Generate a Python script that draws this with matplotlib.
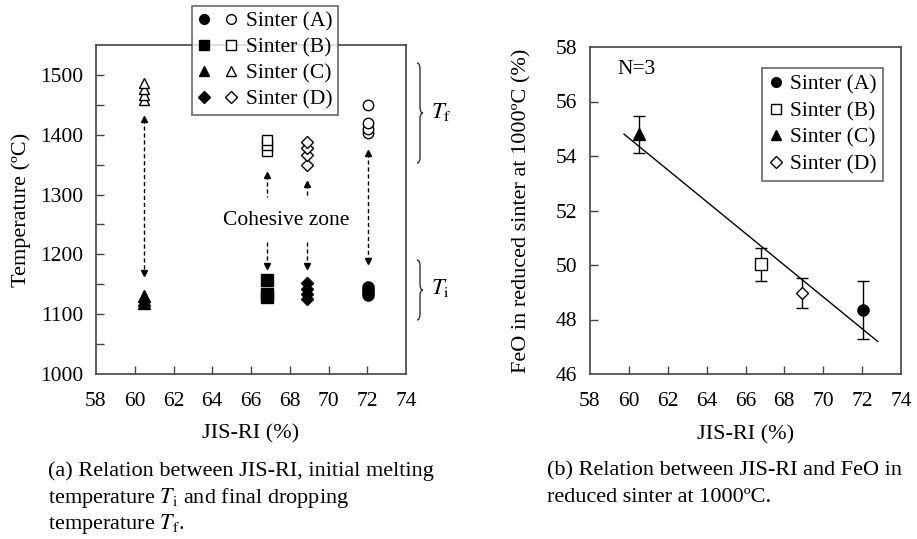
import matplotlib
matplotlib.use("Agg")
import matplotlib.pyplot as plt
import numpy as np
from matplotlib.legend_handler import HandlerTuple
from matplotlib.lines import Line2D
from matplotlib.path import Path
from matplotlib.patches import PathPatch

plt.rcParams['font.family'] = ['Liberation Serif', 'DejaVu Serif']
plt.rcParams['mathtext.fontset'] = 'stix'

# ---------------- data ----------------
sinters = ['Sinter (A)', 'Sinter (B)', 'Sinter (C)', 'Sinter (D)']
markers = ['o', 's', '^', 'D']
jis_ri = [72.05, 66.8, 60.5, 68.9]

# final dropping temperature Tf (open) and initial melting temperature Ti (filled)
tf_values = [[1403, 1410, 1420, 1450],
             [1372, 1383, 1392],
             [1458, 1467, 1476, 1486],
             [1350, 1366, 1377, 1388]]
ti_values = [[1132, 1136, 1141, 1146],
             [1128, 1134, 1157],
             [1118, 1124, 1131],
             [1125, 1133, 1142, 1152]]
arrow_top = [1374, 1336, 1430, 1321]
arrow_bottom = [1185, 1177, 1165, 1177]
gap_top = [None, 1292, None, 1292]
gap_bottom = [None, 1224, None, 1224]

# panel (b)
feo_mean = [48.35, 50.03, 54.8, 48.98]
feo_err = [1.05, 0.6, 0.68, 0.55]
feo_filled = [True, False, True, False]
fit_range = [59.75, 72.8]

W, H = 917, 539
fig = plt.figure(figsize=(W / 100, H / 100), dpi=100)

def px_axes(l, t, r, b):
    return fig.add_axes([l / W, 1 - b / H, (r - l) / W, (b - t) / H])

frame_col = '#444444'
FS = 15.5      # ticks, legend, annotations
FL = 16        # axis labels
FC = 16        # captions

def style_axes(ax):
    ax.tick_params(axis='both', which='both', direction='in', length=6, width=1,
                   color=frame_col, labelsize=FS)
    ax.tick_params(axis='y', pad=9)
    ax.tick_params(axis='x', pad=13)
    for s in ax.spines.values():
        s.set_color(frame_col)
        s.set_linewidth(1.2)

# ---------------- panel (a) ----------------
ax1 = px_axes(96, 45, 406, 374)
ax1.set_xlim(58, 74)
ax1.set_ylim(1000, 1550)
for i in range(4):
    x = jis_ri[i]
    ax1.plot([x] * len(tf_values[i]), tf_values[i], linestyle='none', marker=markers[i],
             mfc='white', mec='black', mew=1.0, ms=7.5 if markers[i] != 'D' else 6)
    ax1.plot([x] * len(ti_values[i]), ti_values[i], linestyle='none', marker=markers[i],
             mfc='black', mec='black', ms=8 if markers[i] != 'D' else 6.5)
    # dashed double arrow
    if gap_top[i] is None:
        segs = [(arrow_top[i], arrow_bottom[i])]
    else:
        segs = [(arrow_top[i], gap_top[i]), (gap_bottom[i], arrow_bottom[i])]
    for a, b in segs:
        ax1.plot([x, x], [a - 4, b + 4], color='black', lw=1.0, linestyle=(0, (3, 2)))
    ax1.plot([x], [arrow_top[i] - 4], marker='^', color='black', ms=4.5)
    ax1.plot([x], [arrow_bottom[i] + 4], marker='v', color='black', ms=4.5)

ax1.text(67.8, 1256, 'Cohesive zone', ha='center', va='center', fontsize=FS)

ax1.set_xticks(np.arange(58, 75, 2))
ax1.set_yticks(np.arange(1000, 1501, 100))
ax1.set_yticks(np.arange(1050, 1501, 100), minor=True)
style_axes(ax1)
xt = ax1.xaxis.get_major_ticks()
xt[0].tick1line.set_visible(False)
xt[-1].tick1line.set_visible(False)
ax1.yaxis.get_major_ticks()[0].tick1line.set_visible(False)
ax1.set_xlabel('JIS-RI (%)', fontsize=FL)
ax1.xaxis.set_label_coords(0.5, -60 / 329)
ax1.xaxis.label.set_va('center')
ax1.set_ylabel('Temperature (ºC)', fontsize=FL)
ax1.yaxis.set_label_coords(-75 / 310, 0.5)
ax1.yaxis.label.set_va('center')

handles = [(Line2D([], [], ls='none', marker=m, mfc='black', mec='black', ms=7 if m != 'D' else 6),
            Line2D([], [], ls='none', marker=m, mfc='white', mec='black', ms=7 if m != 'D' else 6))
           for m in markers]
leg1 = fig.legend(handles, sinters, loc='upper center', bbox_to_anchor=(265 / W, 1 - 6 / H),
                  bbox_transform=fig.transFigure, fontsize=FS, frameon=True, fancybox=False,
                  handler_map={tuple: HandlerTuple(ndivide=None, pad=0.6)},
                  handlelength=1.9, handletextpad=0.35, borderpad=0.25, labelspacing=0.28,
                  borderaxespad=0)
leg1.get_frame().set_edgecolor(frame_col)
leg1.get_frame().set_linewidth(1.2)

# braces
def brace(x0, ytop, ybot, w=6, r=6):
    xm = x0 + w / 2
    ymid = (ytop + ybot) / 2
    pts = [(x0, ytop), (xm, ytop), (xm, ytop + r), (xm, ymid - r), (xm, ymid), (x0 + w, ymid),
           (xm, ymid), (xm, ymid + r), (xm, ybot - r), (xm, ybot), (x0, ybot)]
    codes = [Path.MOVETO, Path.CURVE3, Path.CURVE3, Path.LINETO, Path.CURVE3, Path.CURVE3,
             Path.CURVE3, Path.CURVE3, Path.LINETO, Path.CURVE3, Path.CURVE3]
    pts = [(px / W, 1 - py / H) for px, py in pts]
    fig.add_artist(PathPatch(Path(pts, codes), transform=fig.transFigure, fc='none',
                             ec='#333333', lw=1.0))

brace(417, 63, 163)
brace(417, 260, 320)
fig.text(431 / W, 1 - 112 / H, r'$T_\mathrm{f}$', fontsize=FS + 1, va='center', ha='left')
fig.text(431 / W, 1 - 288 / H, r'$T_\mathrm{i}$', fontsize=FS + 1, va='center', ha='left')

# ---------------- panel (b) ----------------
ax2 = px_axes(590, 47, 901, 374)
ax2.set_xlim(58, 74)
ax2.set_ylim(46, 58)
coef = np.polyfit(jis_ri, feo_mean, 1)
xf = np.array(fit_range)
ax2.plot(xf, np.polyval(coef, xf), color='black', lw=1.0)
h2 = []
for i in range(4):
    ax2.errorbar(jis_ri[i], feo_mean[i], yerr=feo_err[i], fmt=markers[i],
                 mfc='black' if feo_filled[i] else 'white', mec='black', ecolor='black',
                 ms=8 if markers[i] != 'D' else 6.5, mew=1.0, elinewidth=1.0,
                 capsize=4, capthick=1.0, zorder=3)
    h2.append(Line2D([], [], ls='none', marker=markers[i],
                     mfc='black' if feo_filled[i] else 'white', mec='black',
                     ms=7 if markers[i] != 'D' else 6))
ax2.text(27 / 311, (374 - 70) / 327, 'N=3', fontsize=FS, va='center', ha='left',
         transform=ax2.transAxes)
ax2.set_xticks(np.arange(58, 75, 2))
ax2.set_yticks(np.arange(46, 59, 2))
style_axes(ax2)
xt = ax2.xaxis.get_major_ticks()
xt[0].tick1line.set_visible(False)
xt[-1].tick1line.set_visible(False)
yt = ax2.yaxis.get_major_ticks()
yt[0].tick1line.set_visible(False)
yt[-1].tick1line.set_visible(False)
ax2.set_xlabel('JIS-RI (%)', fontsize=FL)
ax2.xaxis.set_label_coords(0.5, -61 / 327)
ax2.xaxis.label.set_va('center')
ax2.set_ylabel('FeO in reduced sinter at 1000ºC (%)', fontsize=FL)
ax2.yaxis.set_label_coords(-68 / 311, 0.5)
ax2.yaxis.label.set_va('center')
leg2 = ax2.legend(h2, sinters, loc='upper right', bbox_to_anchor=(883 / W, 1 - 68 / H),
                  bbox_transform=fig.transFigure, fontsize=FS, frameon=True, fancybox=False,
                  handlelength=0.7, handletextpad=0.3, borderpad=0.3, labelspacing=0.3,
                  borderaxespad=0)
leg2.get_frame().set_edgecolor(frame_col)
leg2.get_frame().set_linewidth(1.2)

# ---------------- captions ----------------
cap_a = ['(a) Relation between JIS-RI, initial melting',
         r'temperature $T_\mathrm{i}$ and final dropping',
         r'temperature $T_\mathrm{f}$.']
cap_b = ['(b) Relation between JIS-RI and FeO in',
         'reduced sinter at 1000ºC.']
for k, line in enumerate(cap_a):
    fig.text(48 / W, 1 - (471 + 26.5 * k) / H, line, fontsize=FC, va='center', ha='left')
for k, line in enumerate(cap_b):
    fig.text(547 / W, 1 - (471 + 26.5 * k) / H, line, fontsize=FC, va='center', ha='left')

fig.savefig('out.png', dpi=100, facecolor='white')
